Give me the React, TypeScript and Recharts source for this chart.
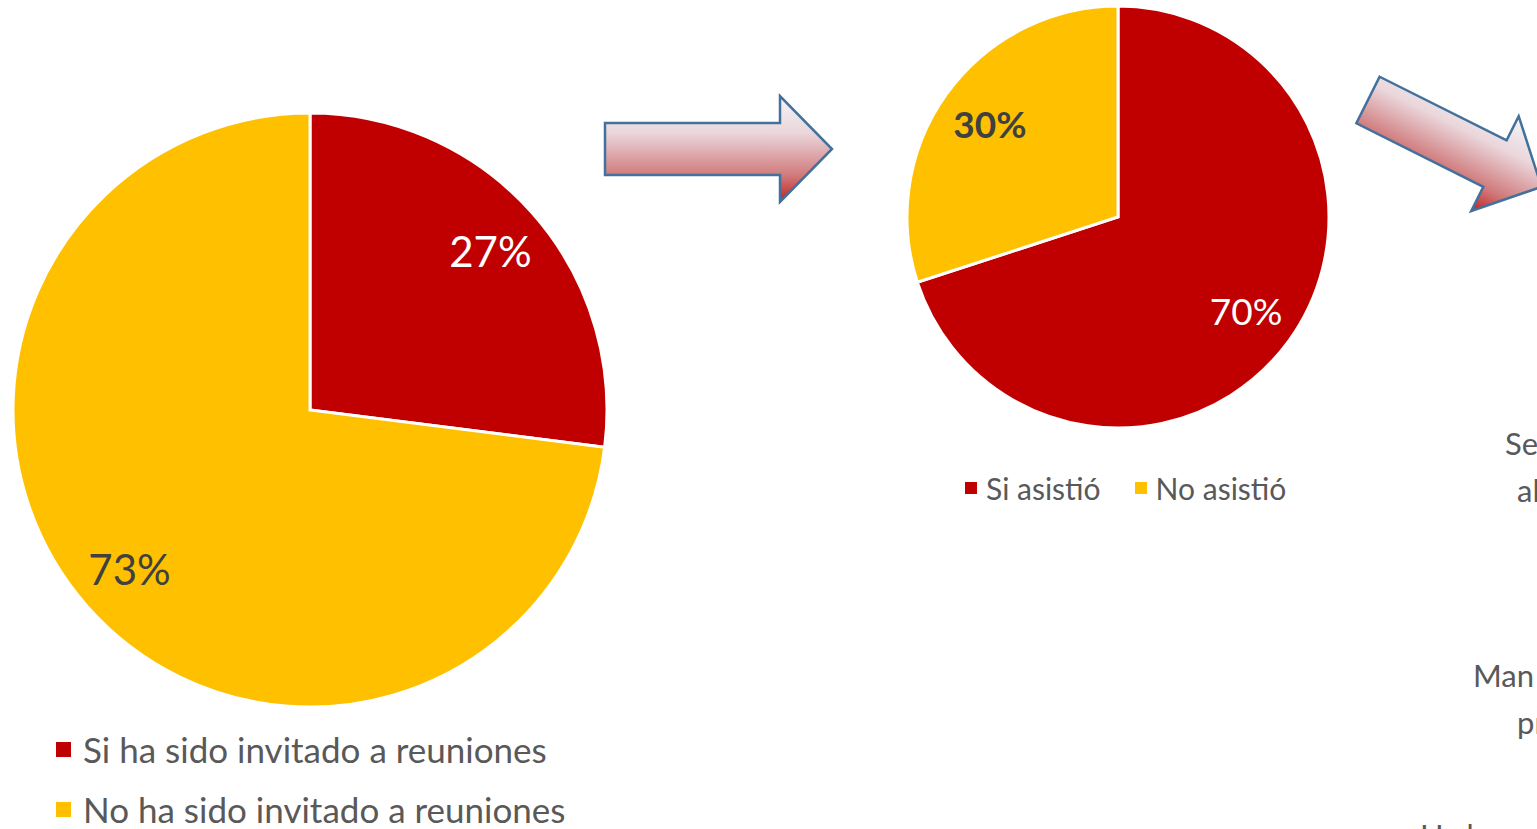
import { PieChart, Pie, Cell, Legend } from 'recharts'

const invitedNames = ['Si ha sido invitado a reuniones', 'No ha sido invitado a reuniones']
const invitedValues = [27, 73]
const attendedNames = ['Si asistió', 'No asistió']
const attendedValues = [70, 30]
const sliceColors = ['#C00000', '#FFC000']
const cutLabels = [
  { text: 'Se', x: 1505, y: 443 },
  { text: 'al', x: 1517, y: 490 },
  { text: 'Man', x: 1473, y: 675 },
  { text: 'pr', x: 1517, y: 722 },
  { text: 'Ha b', x: 1420, y: 835 },
]

const FONT = 'Lato, "Open Sans", sans-serif'
const GREY = '#595959'
const NO_MARGIN = { top: 0, right: 0, bottom: 0, left: 0 }

const invitedData = invitedNames.map((name, i) => ({ name, value: invitedValues[i] }))
const attendedData = attendedNames.map((name, i) => ({ name, value: attendedValues[i] }))

const RAD = Math.PI / 180

function makeLabel(fontSize: number, ratio: number, styles: { fill: string; weight: number }[]) {
  return (props: any) => {
    const { cx, cy, midAngle, outerRadius, index, value } = props
    const r = outerRadius * ratio
    const x = cx + r * Math.cos(-midAngle * RAD)
    const y = cy + r * Math.sin(-midAngle * RAD)
    const s = styles[index]
    return (
      <text x={x} y={y} fill={s.fill} fontWeight={s.weight} fontSize={fontSize} fontFamily={FONT}
        textAnchor="middle" dominantBaseline="central">
        {value}%
      </text>
    )
  }
}

// legend keeps the data order (recharts would sort it by name)
function legendContent(names: string[], fontSize: number, box: number, vertical: boolean) {
  return () => (
    <div style={{ display: 'flex', flexDirection: vertical ? 'column' : 'row', gap: vertical ? 18 : 34, fontFamily: FONT }}>
      {names.map((n, i) => (
        <div key={n} style={{ display: 'flex', alignItems: 'center', fontSize, color: GREY, lineHeight: 1.2 }}>
          <span style={{ width: box, height: box, background: sliceColors[i], marginRight: vertical ? 12 : 9 }} />
          {n}
        </div>
      ))}
    </div>
  )
}

function Arrow({ x, y, angle, bodyLen, id }: { x: number; y: number; angle: number; bodyLen: number; id: string }) {
  // tail centre at (x, y); arrow drawn pointing right then rotated
  const h = 26
  const hh = 53
  const headLen = 52
  const pts = [
    [0, -h], [bodyLen, -h], [bodyLen, -hh], [bodyLen + headLen, 0],
    [bodyLen, hh], [bodyLen, h], [0, h],
  ].map((p) => p.join(',')).join(' ')
  return (
    <g transform={`translate(${x},${y}) rotate(${angle})`}>
      <defs>
        <linearGradient id={id} x1="0" y1="0" x2="0" y2="1">
          <stop offset="0" stopColor="#f4f4f8" />
          <stop offset="0.35" stopColor="#ead6db" />
          <stop offset="0.75" stopColor="#d07a7b" />
          <stop offset="1" stopColor="#c42020" />
        </linearGradient>
      </defs>
      <polygon points={pts} fill={`url(#${id})`} stroke="#41719C" strokeWidth={2.5} strokeLinejoin="miter" />
    </g>
  )
}

export default function App() {
  return (
    <div style={{ position: 'absolute', left: 0, top: 0, width: 1537, height: 829, overflow: 'hidden', background: '#fff', fontFamily: FONT }}>
      <div style={{ position: 'absolute', left: 0, top: 0 }}>
        <PieChart width={640} height={829} margin={NO_MARGIN}>
          <Pie data={invitedData} dataKey="value" nameKey="name" cx={310} cy={410} outerRadius={297}
            startAngle={90} endAngle={-270} stroke="#fff" strokeWidth={3} isAnimationActive={false}
            labelLine={false}
            label={makeLabel(42, 0.81, [{ fill: '#fff', weight: 400 }, { fill: '#404040', weight: 400 }])}>
            {invitedData.map((d, i) => <Cell key={d.name} fill={sliceColors[i]} />)}
          </Pie>
          <Legend content={legendContent(invitedNames, 35, 15, true)} wrapperStyle={{ left: 56, top: 728, width: 600 }} />
        </PieChart>
      </div>
      <div style={{ position: 'absolute', left: 880, top: 0 }}>
        <PieChart width={480} height={520} margin={NO_MARGIN}>
          <Pie data={attendedData} dataKey="value" nameKey="name" cx={238} cy={217} outerRadius={211}
            startAngle={90} endAngle={-270} stroke="#fff" strokeWidth={3} isAnimationActive={false}
            labelLine={false}
            label={makeLabel(37, 0.75, [{ fill: '#fff', weight: 400 }, { fill: '#404040', weight: 700 }])}>
            {attendedData.map((d, i) => <Cell key={d.name} fill={sliceColors[i]} />)}
          </Pie>
          <Legend content={legendContent(attendedNames, 30, 12, false)} wrapperStyle={{ left: 85, top: 470, width: 400 }} />
        </PieChart>
      </div>
      <svg width={1537} height={829} style={{ position: 'absolute', left: 0, top: 0, pointerEvents: 'none' }}>
        <Arrow x={605} y={149} angle={0} bodyLen={175} id="g1" />
        <Arrow x={1368} y={100} angle={26.6} bodyLen={142} id="g2" />
        {cutLabels.map((t) => (
          <text key={t.text} x={t.x} y={t.y} fontSize={31} fill={GREY} fontFamily={FONT} dominantBaseline="central">
            {t.text}
          </text>
        ))}
      </svg>
    </div>
  )
}
